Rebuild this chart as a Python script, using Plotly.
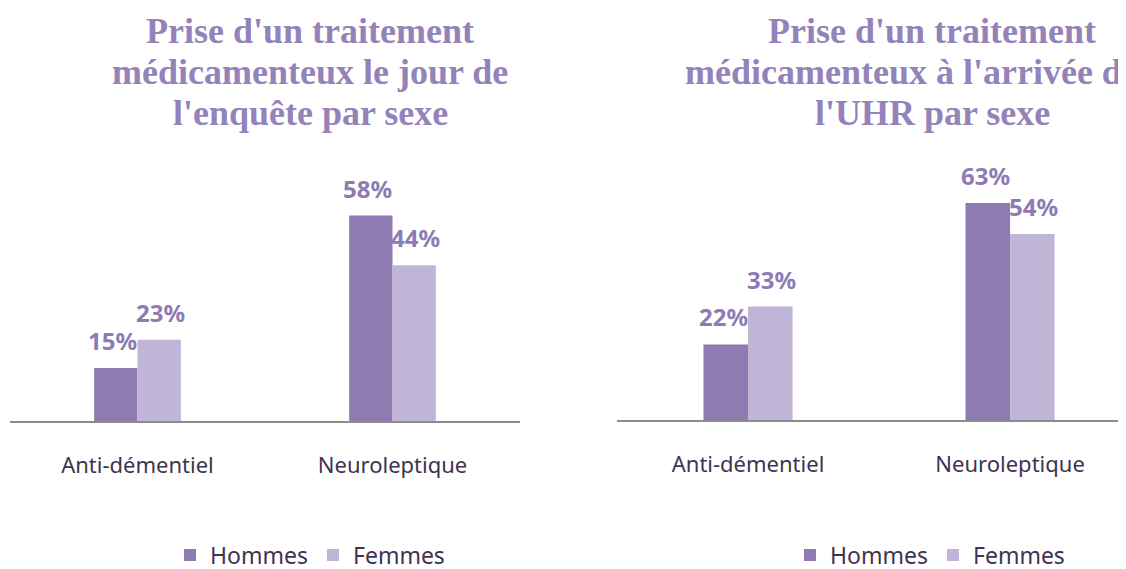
import plotly.graph_objects as go

categories = ["Anti-démentiel", "Neuroleptique"]
series_names = ["Hommes", "Femmes"]
left_hommes = [15, 58]
left_femmes = [23, 44]
right_hommes = [22, 63]
right_femmes = [33, 54]
left_title = ["Prise d'un traitement", "médicamenteux le jour de", "l'enquête par sexe"]
right_title = ["Prise d'un traitement", "médicamenteux à l'arrivée de", "l'UHR par sexe"]

W, H = 1126, 569
OFF = 8  # page body margin offset
C_H = "#8E7BB1"
C_F = "#C0B5D6"
C_LBL = "#8E7BB5"
C_TITLE = "#9482BA"
TXT = "#3F3350"

fig = go.Figure()

panels = [
    ("x", "y", "legend", left_hommes, left_femmes),
    ("x2", "y2", "legend2", right_hommes, right_femmes),
]
for xa, ya, lg, hv, fv in panels:
    for name, vals, col in [(series_names[0], hv, C_H), (series_names[1], fv, C_F)]:
        fig.add_trace(go.Bar(x=categories, y=vals, name=name, marker_color=col,
                             marker_line_width=0, xaxis=xa, yaxis=ya, legend=lg,
                             hoverinfo="skip"))
    for i, c in enumerate(categories):
        for vals, shift in [(hv, -25), (fv, 23)]:
            fig.add_annotation(x=c, y=vals[i], xref=xa, yref=ya, text=f"{vals[i]}%",
                               showarrow=False, xshift=shift, yshift=9, yanchor="bottom",
                               font=dict(family="Noto Sans", size=24, color=C_LBL, weight="bold"))

def pdom(a, b):
    return [(a - OFF) / W, min(1, (b - OFF) / W)]

def vdom(bottom_px, top_px):
    return [(H - (bottom_px - OFF)) / H, (H - (top_px - OFF)) / H]

axis_common = dict(showgrid=False, zeroline=False, showline=True, linecolor="#8C8C8C",
                   linewidth=2, ticks="", tickfont=dict(family="Noto Sans", size=22, color=TXT),
                   ticklabelstandoff=23, fixedrange=True)
yaxis_common = dict(showgrid=False, zeroline=False, showline=False, showticklabels=False,
                    fixedrange=True)

leg_font = dict(family="Noto Sans", size=23, color=TXT)
fig.update_layout(
    width=W, height=H,
    margin=dict(l=0, r=0, t=0, b=0),
    paper_bgcolor="white", plot_bgcolor="white",
    barmode="group", bargap=0.66, bargroupgap=0,
    xaxis=dict(domain=pdom(10, 520), range=[-0.5, 1.5], anchor="y", **axis_common),
    yaxis=dict(domain=vdom(425, 150), range=[0, 275 / 3.58], anchor="x", **yaxis_common),
    xaxis2=dict(domain=pdom(617, 1134), range=[-0.5, 1.473], anchor="y2", **axis_common),
    yaxis2=dict(domain=vdom(424, 150), range=[0, 274 / 3.48], anchor="x2", **yaxis_common),
    legend=dict(orientation="h", x=(170 - OFF) / W, xanchor="left",
                y=(H - (560 - OFF)) / H, yanchor="middle",
                font=leg_font, itemwidth=30, bgcolor="rgba(0,0,0,0)"),
    legend2=dict(orientation="h", x=(790 - OFF) / W, xanchor="left",
                 y=(H - (560 - OFF)) / H, yanchor="middle",
                 font=leg_font, itemwidth=30, bgcolor="rgba(0,0,0,0)"),
    showlegend=True,
)

title_font = dict(family="Liberation Serif", size=36, color=C_TITLE, weight="bold")
line_y = [31, 73, 114]
for txt, ly in zip(left_title, line_y):
    fig.add_annotation(text=txt, x=(310 - OFF) / W, y=(H - (ly - OFF)) / H,
                       xref="paper", yref="paper", xanchor="center", yanchor="middle",
                       showarrow=False, font=title_font)
for k, (txt, ly) in enumerate(zip(right_title, line_y)):
    if k == 1:
        xa, xp = "left", 683
    else:
        xa, xp = "center", 932
    fig.add_annotation(text=txt, x=(xp - OFF) / W, y=(H - (ly - OFF)) / H,
                       xref="paper", yref="paper", xanchor=xa, yanchor="middle",
                       showarrow=False, font=title_font)

fig.write_html("out.html")
